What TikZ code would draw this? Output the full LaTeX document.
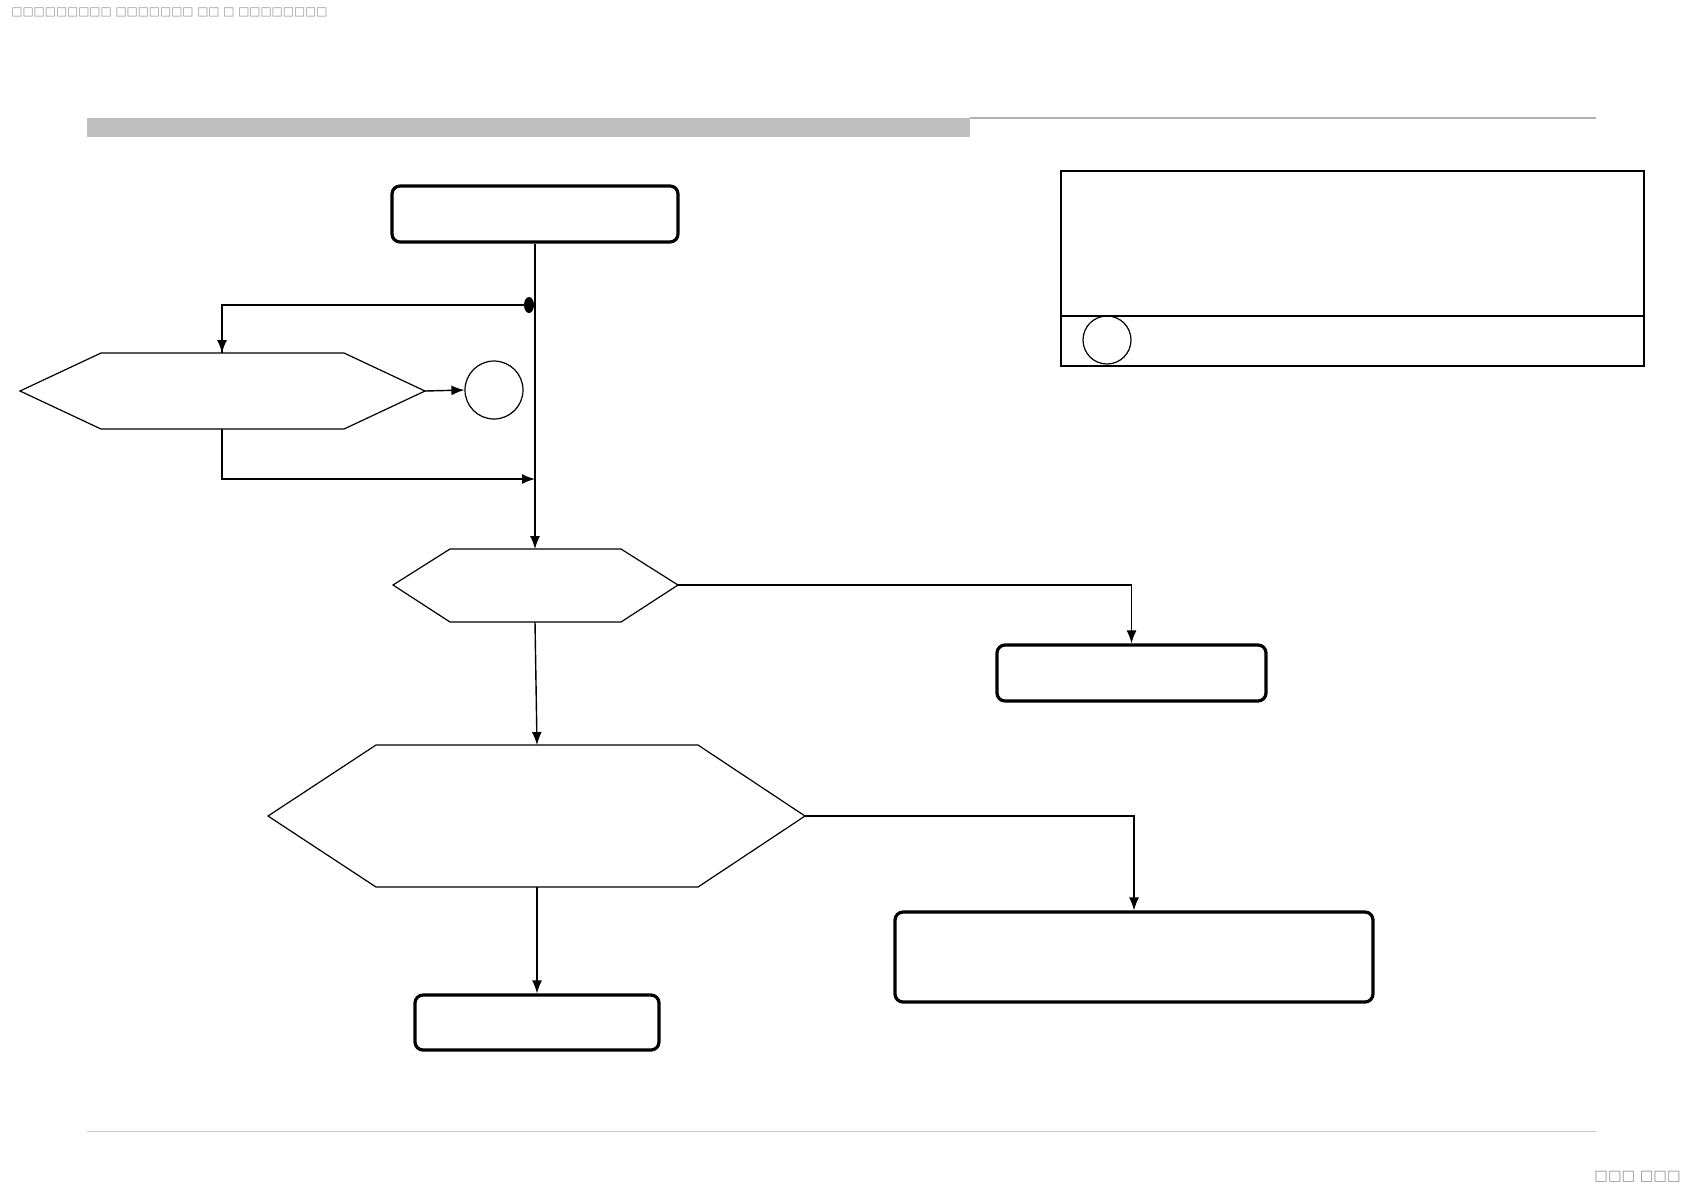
\documentclass[tikz,border=0pt]{standalone}
\usepackage{fontspec}
\newfontfamily\symfont{DejaVu Sans}
\usetikzlibrary{arrows.meta}
\begin{document}
\begin{tikzpicture}[x=0.5pt,y=-0.5pt,
  conn/.style={line width=0.7pt,-{Latex[length=6.5pt,width=5pt]}},
  plainline/.style={line width=0.7pt},
  roundbox/.style={draw,line width=1.6pt,rounded corners=4pt},
  hexa/.style={draw,line width=0.6pt},
  tofu/.style={text=gray!85,inner sep=0pt},
]
\useasboundingbox (0,0) rectangle (1684,1191);
\fill[white] (0,0) rectangle (1684,1191);
% header text (missing glyphs)
\node[tofu,anchor=west,font=\symfont\fontsize{5.9}{7}\selectfont] (hdr) at (11,12) {□□□□□□□□□ □□□□□□□ □□ □ □□□□□□□□};
\node[tofu,anchor=east,font=\symfont\fontsize{7.2}{8}\selectfont] (pg) at (1681,1177) {□□□ □□□};
% header bar and rules
\fill[gray!50] (87,118) rectangle (970,137);
\draw[gray!60,line width=0.6pt] (970,118) -- (1596,118);
\draw[gray!45,line width=0.5pt] (87,1131) -- (1596,1131);
% legend
\draw[line width=0.8pt] (1061,171) rectangle (1644,366);
\draw[line width=0.8pt] (1061,316) -- (1644,316);
\node[draw,circle,minimum size=24pt,line width=0.6pt,inner sep=0pt] (lgc) at (1107,340) {};
% boxes
\node[roundbox,minimum width=143pt,minimum height=28pt] (start) at (535,214) {};
\node[roundbox,minimum width=134.5pt,minimum height=28pt] (box2) at (1131.5,673) {};
\node[roundbox,minimum width=122pt,minimum height=27.5pt] (box3) at (537,1022.5) {};
\node[roundbox,minimum width=239pt,minimum height=45pt] (box4) at (1134,957) {};
% hexagons
\coordinate (h1w) at (20,391); \coordinate (h1e) at (425,391);
\coordinate (h1t) at (222,353); \coordinate (h1b) at (222,429);
\draw[hexa] (h1w) -- (101,353) -- (344,353) -- (h1e) -- (344,429) -- (101,429) -- cycle;
\coordinate (h2w) at (393,585); \coordinate (h2e) at (678,585);
\coordinate (h2t) at (535,549); \coordinate (h2b) at (535,622);
\draw[hexa] (h2w) -- (450,549) -- (621,549) -- (h2e) -- (621,622) -- (450,622) -- cycle;
\coordinate (h3w) at (268,816); \coordinate (h3e) at (805,816);
\coordinate (h3t) at (537,745); \coordinate (h3b) at (537,887);
\draw[hexa] (h3w) -- (376,745) -- (698,745) -- (h3e) -- (698,887) -- (376,887) -- cycle;
% connector circle
\node[draw,circle,minimum size=29pt,line width=0.6pt,inner sep=0pt] (conc) at (494,390) {};
% junction points
\coordinate (dot) at (529,305);
\coordinate (join) at (535,479);
\fill (dot) ellipse (5 and 8);
% connectors
\draw[conn] (start.south) -- (h2t);
\draw[plainline] (dot) -| (h1t);
\draw[conn] (dot -| h1t) -- (h1t);
\draw[conn] (h1e) -- (conc.west);
\draw[conn] (h1b) |- (join);
\draw[conn] (h2e) -| (box2.north);
\draw[conn] (h2b) -- (h3t);
\draw[conn] (h3e) -| (box4.north);
\draw[conn] (h3b) -- (box3.north);
\end{tikzpicture}
\end{document}
